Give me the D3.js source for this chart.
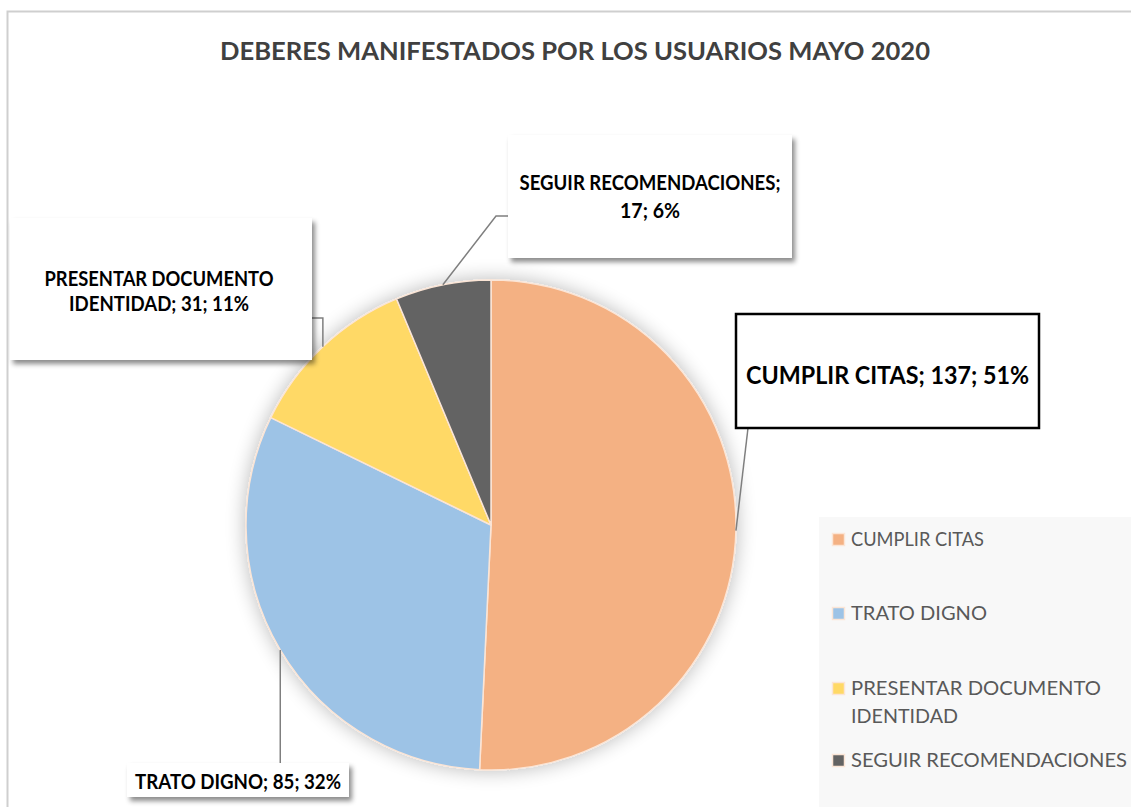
<!DOCTYPE html>
<html><head><meta charset="utf-8">
<script src="https://cdn.jsdelivr.net/npm/d3@7"></script>
<style>
body{margin:0;background:#fff}
svg{display:block}
text{font-family:Lato,"Open Sans","Noto Sans",sans-serif}
</style>
</head><body>
<svg id="chart" width="1131" height="807"></svg>
<script>
// ---- data ----
const chartTitle = "DEBERES MANIFESTADOS POR LOS USUARIOS MAYO 2020";
const categories = ["CUMPLIR CITAS", "TRATO DIGNO", "PRESENTAR DOCUMENTO IDENTIDAD", "SEGUIR RECOMENDACIONES"];
const values = [137, 85, 31, 17];
const percents = [51, 32, 11, 6];
const colors = ["#F4B183", "#9DC3E6", "#FFD966", "#636363"];

// ---- layout ----
const W = 1131, H = 807;
const cx = 491, cy = 525, R = 245;
const svg = d3.select("#chart");
const defs = svg.append("defs");

const ps = defs.append("filter").attr("id", "pieShadow")
  .attr("x", "-20%").attr("y", "-20%").attr("width", "140%").attr("height", "140%");
ps.append("feGaussianBlur").attr("in", "SourceAlpha").attr("stdDeviation", 10).attr("result", "b");
ps.append("feComponentTransfer").attr("in", "b").attr("result", "c")
  .append("feFuncA").attr("type", "linear").attr("slope", 0.28);
const pm = ps.append("feMerge");
pm.append("feMergeNode").attr("in", "c");
pm.append("feMergeNode").attr("in", "SourceGraphic");

const bs = defs.append("filter").attr("id", "boxShadow")
  .attr("x", "-10%").attr("y", "-20%").attr("width", "130%").attr("height", "150%");
bs.append("feDropShadow").attr("dx", 3).attr("dy", 4).attr("stdDeviation", 2.5)
  .attr("flood-color", "#000").attr("flood-opacity", 0.45);

// chart border
svg.append("path").attr("d", `M7.5,${H} L7.5,11.5 L${W},11.5`)
  .attr("fill", "none").attr("stroke", "#CFCFCF").attr("stroke-width", 2);

// title
svg.append("text").attr("x", 575).attr("y", 60).attr("text-anchor", "middle")
  .attr("font-size", 24).attr("font-weight", 700).attr("fill", "#404040")
  .attr("textLength", 710).attr("lengthAdjust", "spacingAndGlyphs")
  .text(chartTitle);

// pie
const pie = d3.pie().sort(null).value(d => d.value).startAngle(0).endAngle(2 * Math.PI);
const data = categories.map((c, i) => ({ cat: c, value: values[i], pct: percents[i], color: colors[i] }));
const arcs = pie(data);
const arc = d3.arc().innerRadius(0).outerRadius(R);
const edgeArc = d3.arc().innerRadius(R).outerRadius(R);

const pg = svg.append("g").attr("transform", `translate(${cx},${cy})`).attr("filter", "url(#pieShadow)");
pg.selectAll("path").data(arcs).join("path")
  .attr("d", arc).attr("fill", d => d.data.color)
  .attr("stroke", "#FBE5D6").attr("stroke-width", 1.5).attr("stroke-linejoin", "round");

// data labels
const labelLayout = [
  { box: [736, 314, 303, 114], framed: true, size: 24, breakAfter: null, widths: [283], centers: [375], path: e => [[748, 428]] },
  { box: [127, 763, 222, 34], framed: false, size: 20, breakAfter: null, widths: [206], centers: [782], path: e => [[e[0], 763]] },
  { box: [10, 218, 302, 142], framed: false, size: 20, breakAfter: 2, widths: [229, 180], centers: [279, 304], path: e => [[e[0], 318], [312, 318]] },
  { box: [508, 135, 284, 123], framed: false, size: 20, breakAfter: 2, widths: [261, 60], centers: [183, 211], path: e => [[496, 216], [508, 216]] }
];

const lg = svg.append("g");
arcs.forEach((a, i) => {
  const L = labelLayout[i];
  const c = edgeArc.centroid(a);
  const e = [cx + c[0], cy + c[1]];
  const pts = [e].concat(L.path(e));
  lg.append("path").attr("d", d3.line()(pts)).attr("fill", "none")
    .attr("stroke", "#7F7F7F").attr("stroke-width", 1.5);
});
arcs.forEach((a, i) => {
  const L = labelLayout[i];
  const [bx, by, bw, bh] = L.box;
  const r = lg.append("rect").attr("x", bx).attr("y", by).attr("width", bw).attr("height", bh)
    .attr("fill", "#fff");
  if (L.framed) r.attr("stroke", "#000").attr("stroke-width", 2.5);
  else r.attr("filter", "url(#boxShadow)");
  const full = `${a.data.cat}; ${a.data.value}; ${a.data.pct}%`;
  const words = full.split(" ");
  const lines = L.breakAfter ? [words.slice(0, L.breakAfter).join(" "), words.slice(L.breakAfter).join(" ")] : [full];
  lines.forEach((t, j) => {
    lg.append("text").attr("x", bx + bw / 2 + (i === 2 ? -2 : 0)).attr("y", L.centers[j] + L.size * 0.36)
      .attr("text-anchor", "middle").attr("font-size", L.size).attr("font-weight", 700).attr("fill", "#000")
      .attr("textLength", L.widths[j]).attr("lengthAdjust", "spacingAndGlyphs")
      .text(t);
  });
});

// legend
const legendLines = [["CUMPLIR CITAS"], ["TRATO DIGNO"], ["PRESENTAR DOCUMENTO", "IDENTIDAD"], ["SEGUIR RECOMENDACIONES"]];
const legendBase = [546, 620, 695, 767];
const legendWidths = [[133], [136], [250, 107], [276]];
const leg = svg.append("g");
leg.append("rect").attr("x", 819).attr("y", 517).attr("width", W - 819).attr("height", H - 517).attr("fill", "#F8F8F8");
data.forEach((d, i) => {
  const b = legendBase[i];
  leg.append("rect").attr("x", 832.5).attr("y", b - 12.5).attr("width", 12).attr("height", 12)
    .attr("fill", d.color).attr("stroke", "#FBE5D6").attr("stroke-width", 1.5);
  legendLines[i].forEach((t, j) => {
    leg.append("text").attr("x", 851).attr("y", b + j * 28)
      .attr("font-size", 20).attr("fill", "#595959")
      .attr("textLength", legendWidths[i][j]).attr("lengthAdjust", "spacingAndGlyphs")
      .text(t);
  });
});
</script>
</body></html>
